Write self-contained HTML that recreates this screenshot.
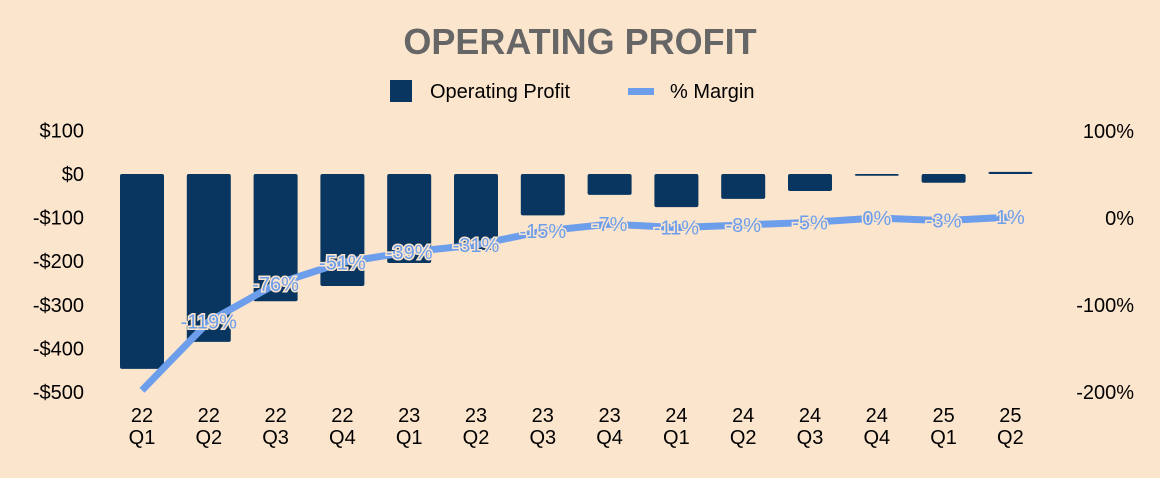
<!DOCTYPE html>
<html><head><meta charset="utf-8"><style>
body{margin:0;background:#fce5cd;}
svg{display:block;font-family:"Liberation Sans",Arial,sans-serif;}
</style></head><body>
<svg id="chart" width="1160" height="478" viewBox="0 0 1160 478">
<rect x="0" y="0" width="1160" height="478" fill="#fce5cd"/>
<text x="580" y="54" text-anchor="middle" font-size="36" font-weight="bold" fill="#666666">OPERATING PROFIT</text>
<g>
<rect x="390" y="80" width="22" height="22" fill="#083660"/>
<text x="430" y="98" font-size="20" fill="#000">Operating Profit</text>
<rect x="628" y="88" width="26" height="7" fill="#6d9eeb"/>
<text x="670" y="98" font-size="20" fill="#000">% Margin</text>
</g>
<g id="g"></g>
</svg>
<script>
const categories=["22 Q1","22 Q2","22 Q3","22 Q4","23 Q1","23 Q2","23 Q3","23 Q4","24 Q1","24 Q2","24 Q3","24 Q4","25 Q1","25 Q2"];
const profit=[-447,-385,-292,-257,-204,-174,-95,-48,-76,-57,-39,-4,-20,5];
const margin=[-198,-119,-76,-51,-39,-31,-15,-7,-11,-8,-5,0,-3,1];
const leftTicks=[100,0,-100,-200,-300,-400,-500];
const rightTicks=[100,0,-100,-200];
const NS="http://www.w3.org/2000/svg";
const g=document.getElementById('g');
const yL=v=>174-v*0.436;
const yR=v=>218-v*0.87;
const xC=i=>142+i*66.8;
function mk(t,a){const e=document.createElementNS(NS,t);for(const k in a)e.setAttribute(k,a[k]);g.appendChild(e);return e;}
leftTicks.forEach(v=>{const e=mk('text',{x:84,y:yL(v)+7,'text-anchor':'end','font-size':20,fill:'#000'});


e.textContent=(v<0?'-$':'$')+Math.abs(v);});
rightTicks.forEach(v=>{const e=mk('text',{x:1134,y:yR(v)+7,'text-anchor':'end','font-size':20,fill:'#000'});


e.textContent=v+'%';});
categories.forEach((c,i)=>{const p=c.split(' ');
const e=mk('text',{x:xC(i),y:422,'text-anchor':'middle','font-size':20,fill:'#000'});


e.innerHTML='<tspan x="'+xC(i)+'">'+p[0]+'</tspan><tspan x="'+xC(i)+'" dy="22">'+p[1]+'</tspan>';});
profit.forEach((v,i)=>{const y0=yL(0),y1=yL(v);
const r=mk('rect',{x:xC(i)-22,y:Math.min(y0,y1),width:44,height:Math.max(1,Math.abs(y1-y0)),rx:2,fill:'#083660'});

});
const pts=margin.map((v,i)=>xC(i)+','+yR(v)).join(' ');
const l=mk('polyline',{points:pts,fill:'none',stroke:'#6d9eeb','stroke-width':7,'stroke-linejoin':'round'});


margin.forEach((v,i)=>{if(i===0)return;
const t=mk('text',{x:xC(i),y:yR(v)+7,'text-anchor':'middle','font-size':20,fill:'#6d9eeb',stroke:'#fce5cd','stroke-width':3,'paint-order':'stroke'});


t.textContent=v+'%';});
</script>
</body></html>
